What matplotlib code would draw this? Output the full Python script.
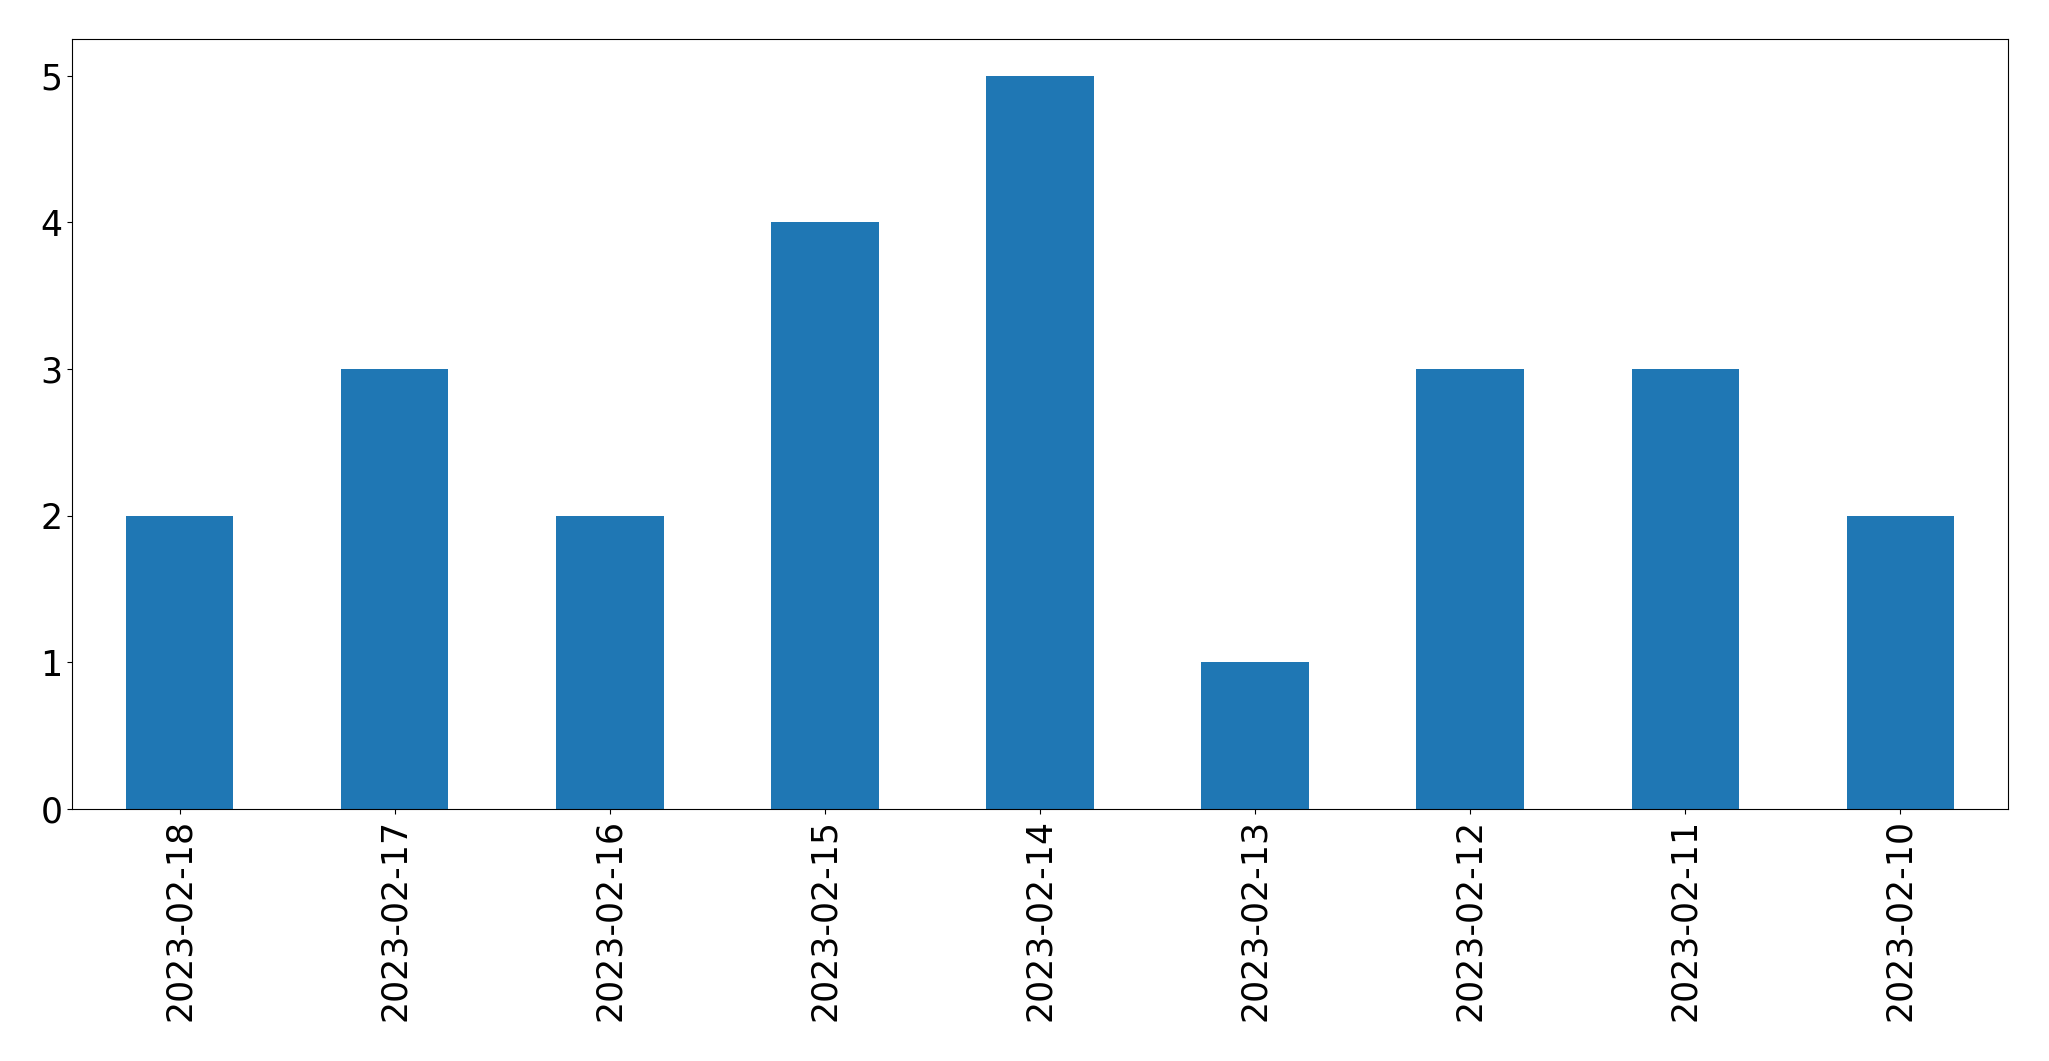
import matplotlib
matplotlib.use("Agg")
import matplotlib.pyplot as plt

# counts per day, newest first (as in the original)
dates = ["2023-02-18", "2023-02-17", "2023-02-16", "2023-02-15", "2023-02-14",
         "2023-02-13", "2023-02-12", "2023-02-11", "2023-02-10"]
counts = [2, 3, 2, 4, 5, 1, 3, 3, 2]

fig = plt.figure(figsize=(20.49, 10.61), dpi=100)
ax = fig.add_axes([72 / 2049, 1 - 809 / 1061, (2008 - 72) / 2049, (809 - 39) / 1061])

x = range(len(dates))
ax.bar(x, counts, width=0.5, color="#1f77b4")
ax.set_xlim(-0.5, len(dates) - 0.5)
ax.set_xticks(list(x))
ax.set_xticklabels(dates, rotation=90)
ax.tick_params(axis="both", labelsize=25)

fig.savefig("out.png", dpi=100)
